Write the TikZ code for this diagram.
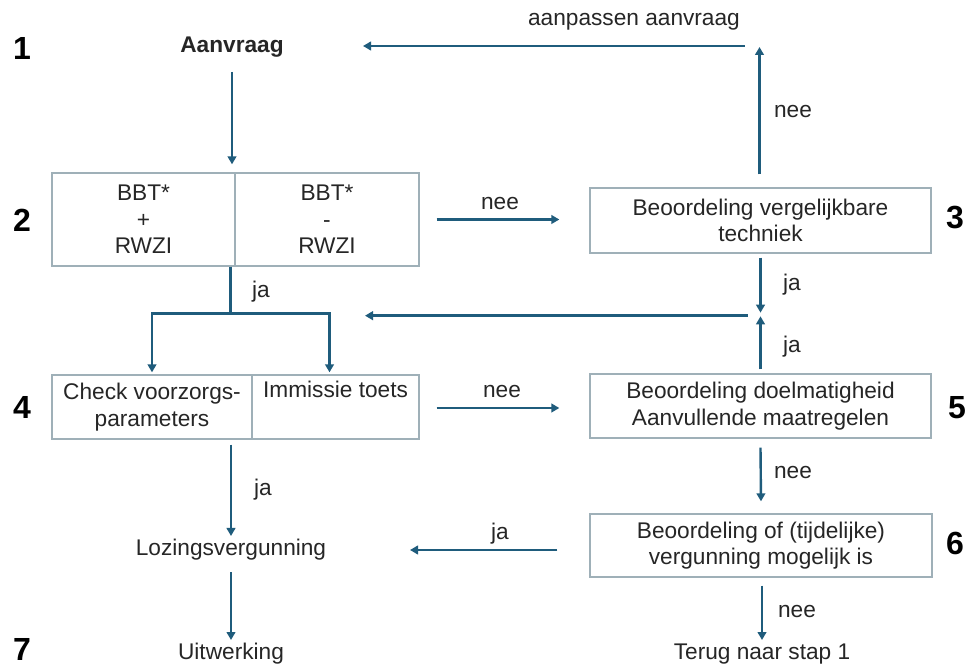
\documentclass[tikz,border=0pt]{standalone}
\usepackage{fontspec}
\setmainfont{Liberation Sans}
\usetikzlibrary{calc,arrows.meta}
\definecolor{arrc}{HTML}{1F5C7C}
\definecolor{boxc}{HTML}{9FB0B8}
\definecolor{txtc}{HTML}{262626}
\tikzset{
 txt/.style={font=\fontsize{17}{20}\selectfont, text=txtc, inner sep=0pt, align=center},
 num/.style={font=\fontsize{24}{28}\selectfont\bfseries, text=black, inner sep=0pt},
 boxn/.style={txt, draw=boxc, line width=1pt},
 arr/.style={draw=arrc, line width=1.8pt, -{Triangle[length=6pt,width=6.5pt]}},
 lin/.style={draw=arrc, line width=1.8pt},
}
\begin{document}
\begin{tikzpicture}[x=0.75pt,y=-0.75pt]
\useasboundingbox[fill=white] (0,0) rectangle (968,666);
% step numbers
\node[num] (n1) at (22,48) {1};
\node[num] (n2) at (22,220) {2};
\node[num] (n3) at (955,218) {3};
\node[num] (n4) at (22,407) {4};
\node[num] (n5) at (957,408) {5};
\node[num] (n6) at (955,543) {6};
\node[num] (n7) at (22,649) {7};
% nodes
\node[txt, font=\fontsize{17}{20}\selectfont\bfseries] (aanvraag) at (232,47) {Aanvraag};
\node[boxn, minimum width=137.25pt, minimum height=69.75pt] (b2l) at (143.5,219.5) {BBT*\\+\\RWZI};
\node[boxn, minimum width=138pt, minimum height=69.75pt] (b2r) at (327,219.5) {BBT*\\-\\RWZI};
\node[boxn, minimum width=255.75pt, minimum height=48.75pt] (b3) at (760.5,220.5) {Beoordeling vergelijkbare\\techniek};
\node[boxn, minimum width=150pt, minimum height=48pt] (b4l) at (152,407) {Check voorzorgs-\\parameters};
\node[boxn, minimum width=125.25pt, minimum height=48pt] (b4r) at (335.5,407) {Immissie toets\\\strut};
\node[boxn, minimum width=255.75pt, minimum height=48pt] (b5) at (760.5,406) {Beoordeling doelmatigheid\\Aanvullende maatregelen};
\node[boxn, minimum width=256.5pt, minimum height=47.25pt] (b6) at (761,545.5) {Beoordeling of (tijdelijke)\\vergunning mogelijk is};
\node[txt] (loz) at (231,550) {Lozingsvergunning};
\node[txt] (uitw) at (231,654) {Uitwerking};
\node[txt] (terug) at (762,654) {Terug naar stap 1};
% labels
\node[txt] (l1) at (634,22) {aanpassen aanvraag};
\node[txt] (l2) at (793,112) {nee};
\node[txt] (l3) at (500,204) {nee};
\node[txt] (l4) at (792,285) {ja};
\node[txt] (l5) at (792,347) {ja};
\node[txt] (l6) at (261,292) {ja};
\node[txt] (l7) at (502,392) {nee};
\node[txt] (l8) at (793,473) {nee};
\node[txt] (l9) at (263,490) {ja};
\node[txt] (l10) at (500,534) {ja};
\node[txt] (l11) at (797,612) {nee};
% connectors
\draw[arr] ($(aanvraag.center)+(0,25)$) -- ($(aanvraag.center |- b2l.north)+(0,-8)$);
\draw[arr] ($(b2r.east)+(17,0)$) -- ($(b2r.east -| b3.west)+(-30,0)$);
\draw[arr] ($(b3.north)+(-1,-13)$) -- ($(b3.north |- aanvraag.center)+(-1,0)$);
\draw[arr] ($(b3.north |- aanvraag.center)+(-16,-1)$) -- ($(aanvraag.center)+(131,-1)$);
\draw[arr] ($(b3.south)+(0,4)$) -- ($(b3.south)+(0,59)$);
\draw[arr] ($(b5.north)+(0,-4)$) -- ($(b5.north)+(0,-57)$);
\coordinate (join) at ($(b3.south)+(-13,62)$);
\draw[arr] (join) -- ($(aanvraag.center |- join)+(133,0)$);
\coordinate (split) at ($(b2l.south east)+(-5,47)$);
\draw[lin] ($(b2l.south east)+(-5,0)$) -- (split);
\draw[arr] (split) -| ($(b4l.north)+(0,-2)$);
\draw[arr] (split) -| ($(b4r.north)+(-6,-2)$);
\draw[arr] ($(b4r.east)+(17,1)$) -- ($(b4r.east -| b5.west)+(-30,1)$);
\draw[arr] ($(b5.south)+(0,9)$) -- ($(b6.north)+(0,-12)$);
\draw[arr] ($(loz.center -| b6.west)+(-32,0)$) -- ($(loz.center)+(179,0)$);
\draw[arr] ($(loz.center |- b4l.south)+(0,5)$) -- ($(loz.center)+(0,-14)$);
\draw[arr] ($(loz.center)+(0,22)$) -- ($(uitw.center)+(0,-14)$);
\draw[arr] ($(b6.south)+(1,8)$) -- ($(terug.center)+(0,-14)$);
\end{tikzpicture}
\end{document}
